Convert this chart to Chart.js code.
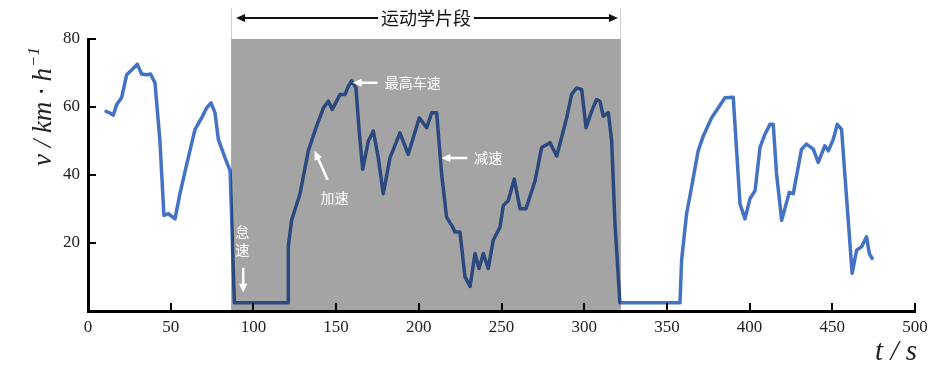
<!DOCTYPE html>
<html>
<head>
<meta charset="utf-8">
<script src="https://cdn.jsdelivr.net/npm/chart.js@4/dist/chart.umd.min.js"></script>
<style>
html,body{margin:0;padding:0;background:#fff;}
#wrap{width:947px;height:380px;}
</style>
</head>
<body>
<div id="wrap"><canvas id="c" width="947" height="380"></canvas></div>
<script>
// time (s)
const times = [10.9,13,15.3,17.3,20.3,23.4,26.4,29.8,32.4,35.4,37.8,40.5,43.5,45.9,48.6,52.6,55.6,59.7,64.7,68.7,71.7,74.4,76.8,78.8,82.8,85.9,88.5,
 121,121.1,123.1,128.2,133.2,138.2,142.3,145.3,147.7,152.4,155.4,157.4,159.4,162,164.1,166.1,169.5,172.5,175.5,178.5,182.6,188.6,193.6,200.3,204.8,207.8,210.8,
 213.8,216.8,219.9,221.9,224.9,227.9,231,234,236.4,239,242,245,249.1,251.1,254.1,257.7,261.2,264.8,270.3,274.3,279.3,283.4,289.4,292.4,295.4,298.5,301.1,304.5,
 307.5,309.5,311.5,314.6,316.6,318.6,321.6,357.9,358.9,361.9,364.9,368.9,372,377,381,385.1,390.1,394.2,397.2,400.2,403.3,406.3,409.3,412.3,414.3,416.3,419.4,
 424,426.4,431.4,434.4,438.5,441.5,445.5,447.6,450.6,453,455.6,458.6,462,464.7,467.7,470.7,472.4,474.1];
// speed (km/h)
const speeds = [58.7,58.3,57.6,60.7,62.7,69.5,70.9,72.6,69.7,69.5,69.7,67.1,50,28.1,28.6,27.1,34.5,43.2,53.4,56.8,59.7,61.2,58.3,50.5,45.1,41.3,2.4,
 2.4,19,26.7,34.5,47.1,54.4,59.7,61.7,59.3,63.7,63.7,66.1,67.7,65.6,52,41.7,50,52.9,45.1,34.5,45.1,52.4,46.1,56.8,53.9,58.3,58.3,
 40.3,27.6,25.2,23.2,23.2,10.1,7.2,16.9,12.5,16.9,12.5,20.8,24.7,31,32.5,38.8,30.1,30.1,38.3,48.1,49.5,45.6,56.8,63.7,65.6,65.1,53.9,58.8,
 62.2,61.7,57.3,58.3,50,25.7,2.4,2.4,15,28.6,36.4,47.1,51.5,56.8,59.7,62.7,62.9,31.5,27.1,33,35.4,48.1,52,54.9,54.9,40.3,26.7,
 34.9,34.5,47.6,49.1,47.6,43.7,48.6,47.1,50.5,54.9,53.4,33.5,11.1,17.9,18.9,21.8,16.9,15.5];
const xTickValues = [0,50,100,150,200,250,300,350,400,450,500];
const yTickValues = [20,40,60,80];
const bandRange = [86.5, 322.2];
const bandLabel = '运动学片段';
const notes = [
  {text:'最高车速', t:159.4, v:68},
  {text:'加速', t:137, v:48},
  {text:'减速', t:213, v:45},
  {text:'怠速', t:92, v:2.4}
];

const points = times.map((t,i)=>({x:t,y:speeds[i]}));

function arrow(ctx, x1, y1, x2, y2, color, lw, head){
  const a = Math.atan2(y2-y1, x2-x1);
  ctx.save();
  ctx.strokeStyle=color; ctx.fillStyle=color; ctx.lineWidth=lw;
  ctx.beginPath(); ctx.moveTo(x1,y1);
  ctx.lineTo(x2-Math.cos(a)*head*0.8, y2-Math.sin(a)*head*0.8); ctx.stroke();
  ctx.beginPath();
  ctx.moveTo(x2,y2);
  ctx.lineTo(x2-head*Math.cos(a)+head*0.45*Math.sin(a), y2-head*Math.sin(a)-head*0.45*Math.cos(a));
  ctx.lineTo(x2-head*Math.cos(a)-head*0.45*Math.sin(a), y2-head*Math.sin(a)+head*0.45*Math.cos(a));
  ctx.closePath(); ctx.fill();
  ctx.restore();
}

const overlay = {
  id:'overlay',
  afterDatasetsDraw(chart){
    const ctx=chart.ctx, xs=chart.scales.x, ys=chart.scales.y;
    const x1=xs.getPixelForValue(bandRange[0]), x2=xs.getPixelForValue(bandRange[1]);
    const yTop=ys.getPixelForValue(80), yBot=ys.getPixelForValue(0);
    ctx.save();
    ctx.fillStyle='rgba(0,0,0,0.357)';
    ctx.fillRect(x1,yTop,x2-x1,yBot-yTop);
    ctx.strokeStyle='#d0d0d0'; ctx.lineWidth=1;
    ctx.beginPath(); ctx.moveTo(Math.round(x1)+0.5,8); ctx.lineTo(Math.round(x1)+0.5,yTop);
    ctx.moveTo(Math.round(x2)-0.5,8); ctx.lineTo(Math.round(x2)-0.5,yTop); ctx.stroke();
    const cx=(x1+x2)/2, ay=18;
    ctx.font='18px "Noto Sans CJK SC"';
    ctx.fillStyle='#111'; ctx.textAlign='center'; ctx.textBaseline='middle';
    ctx.fillText(bandLabel,cx,ay);
    const tw=ctx.measureText(bandLabel).width/2+3;
    arrow(ctx,cx-tw,ay,x1+5,ay,'#111',2,9);
    arrow(ctx,cx+tw,ay,x2-3,ay,'#111',2,9);
    ctx.font='14px "Noto Sans CJK SC"';
    ctx.fillStyle='#fff';
    const W='#ffffff';
    let n=notes[0]; let px=xs.getPixelForValue(n.t), py=ys.getPixelForValue(n.v);
    arrow(ctx,px+26,py+3,px+1,py+3,W,2.5,9);
    ctx.textAlign='left'; ctx.fillText(n.text,px+33,py+3);
    n=notes[1]; px=xs.getPixelForValue(n.t), py=ys.getPixelForValue(n.v);
    arrow(ctx,px+13,py+32,px,py+3,W,2.5,9);
    ctx.textAlign='center'; ctx.fillText(n.text,px+20,py+50);
    n=notes[2]; px=xs.getPixelForValue(n.t), py=ys.getPixelForValue(n.v);
    arrow(ctx,px+27,py,px+1,py,W,2.5,9);
    ctx.textAlign='left'; ctx.fillText(n.text,px+34,py);
    n=notes[3]; px=xs.getPixelForValue(n.t), py=ys.getPixelForValue(n.v);
    ctx.textAlign='center';
    ctx.fillText(n.text[0],px+2,py-71);
    ctx.fillText(n.text[1],px+2,py-53);
    arrow(ctx,px+3,py-35,px+3,py-10,W,2.5,9);
    ctx.restore();
    ctx.save();
    ctx.strokeStyle='#000'; ctx.lineWidth=2;
    ctx.beginPath();
    const yb=ys.getPixelForValue(0);
    xTickValues.forEach(v=>{ if(v===0) return; const x=Math.round(xs.getPixelForValue(v)); ctx.moveTo(x,yb); ctx.lineTo(x,yb-8);});
    const xl=xs.getPixelForValue(0);
    yTickValues.forEach(v=>{ const y=Math.round(ys.getPixelForValue(v)); ctx.moveTo(xl,y); ctx.lineTo(xl+8,y);});
    ctx.stroke();
    ctx.restore();
  },
  afterDraw(chart){
    const ctx=chart.ctx;
    ctx.save();
    ctx.fillStyle='#222';
    ctx.translate(42,107); ctx.rotate(-Math.PI/2);
    const f1='italic 27px "Liberation Serif"', f2='italic 17px "Liberation Serif"';
    const main='v / km · h', sup='−1';
    ctx.font=f1; const w1=ctx.measureText(main).width;
    ctx.font=f2; const w2=ctx.measureText(sup).width;
    const start=-(w1+w2)/2;
    ctx.textBaseline='alphabetic'; ctx.textAlign='left';
    ctx.font=f1; ctx.fillText(main,start,9);
    ctx.font=f2; ctx.fillText(sup,start+w1+1,-3);
    ctx.restore();
    ctx.save();
    ctx.fillStyle='#222';
    ctx.font='italic 29px "Liberation Serif"';
    ctx.textAlign='right'; ctx.textBaseline='alphabetic';
    ctx.fillText('t / s',917,360);
    ctx.restore();
  }
};

new Chart(document.getElementById('c'),{
  type:'line',
  data:{datasets:[{data:points,borderColor:'#4472c4',borderWidth:3.5,borderJoinStyle:'round',borderCapStyle:'round',pointRadius:0,tension:0,fill:false}]},
  options:{
    responsive:false,animation:false,
    layout:{padding:{top:39,right:32,left:0,bottom:0}},
    plugins:{legend:{display:false},tooltip:{enabled:false}},
    scales:{
      x:{type:'linear',min:0,max:500,
        afterBuildTicks(s){s.ticks=xTickValues.map(v=>({value:v}));},
        ticks:{font:{family:'"Liberation Serif"',size:17},color:'#222',padding:6,maxRotation:0,autoSkip:false},
        grid:{display:false,drawTicks:false},
        border:{display:true,color:'#000',width:3},
        afterFit(s){s.height=69;}
      },
      y:{min:0,max:80,
        afterBuildTicks(s){s.ticks=[0].concat(yTickValues).map(v=>({value:v}));},
        ticks:{font:{family:'"Liberation Serif"',size:17},color:'#222',padding:8,callback:v=>v===0?'':v},
        grid:{display:false,drawTicks:false},
        border:{display:true,color:'#000',width:3},
        afterFit(s){s.width=88;}
      }
    }
  },
  plugins:[overlay]
});
</script>
</body>
</html>
